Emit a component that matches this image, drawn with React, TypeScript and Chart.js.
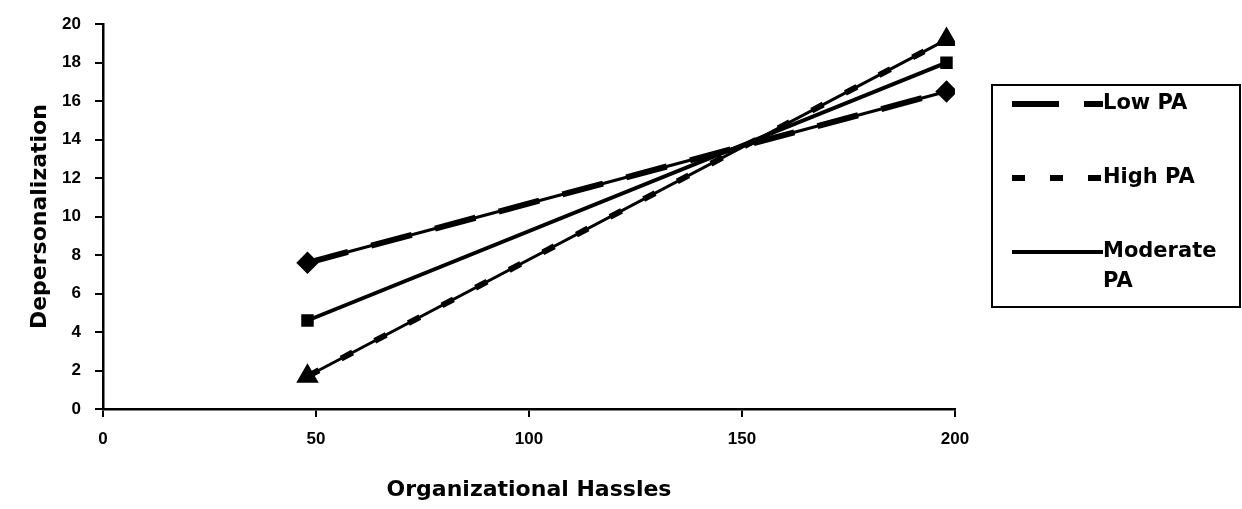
import React, { useEffect, useRef } from "react";
import { Chart, registerables } from "chart.js";

Chart.register(...registerables);

const xValues = [48, 198];
const lowPA = [7.6, 16.5];
const highPA = [1.7, 19.2];
const moderatePA = [4.6, 18.0];
const legendLabels = ["Low PA", "High PA", "Moderate", "PA"];
const xTitle = "Organizational Hassles";
const yTitle = "Depersonalization";

const FONT = "'Liberation Sans', Arial, sans-serif";
const TFONT = "'DejaVu Sans', sans-serif";

const LOW_DASH = [42, 24];
const HIGH_DASH = [13, 25];

const pts = (ys: number[]) => xValues.map((x, i) => ({ x, y: ys[i] }));

const legendPlugin = {
  id: "boxLegend",
  afterDraw(chart: any) {
    const ctx = chart.ctx;
    ctx.save();
    const left = 992, top = 85, right = 1240, bottom = 307;
    ctx.strokeStyle = "#000";
    ctx.lineWidth = 2;
    ctx.strokeRect(left, top, right - left, bottom - top);
    const items = [
      { y: 104, dash: [47, 25], width: 6, lines: [legendLabels[0]] },
      { y: 178, dash: [13, 25], width: 6, lines: [legendLabels[1]] },
      { y: 252, dash: [], width: 4, lines: [legendLabels[2], legendLabels[3]] },
    ];
    ctx.font = `bold 21px ${TFONT}`;
    ctx.fillStyle = "#000";
    ctx.textBaseline = "middle";
    items.forEach((it) => {
      ctx.beginPath();
      ctx.setLineDash(it.dash);
      ctx.lineWidth = it.width;
      ctx.lineCap = "butt";
      ctx.moveTo(1012, it.y);
      ctx.lineTo(1103, it.y);
      ctx.stroke();
      ctx.setLineDash([]);
      it.lines.forEach((t: string, j: number) => ctx.fillText(t, 1103, it.y + j * 30));
    });
    ctx.restore();
  },
};

export default function App() {
  const ref = useRef<HTMLCanvasElement | null>(null);
  useEffect(() => {
    document.body.style.margin = "0";
    const base = {
      borderColor: "#000",
      backgroundColor: "#000",
      pointBackgroundColor: "#000",
      pointBorderColor: "#000",
    };
    const chart = new Chart(ref.current!, {
      type: "line",
      data: {
        datasets: [
          { ...base, label: "Low PA", data: pts(lowPA), borderWidth: 6, borderDash: LOW_DASH, pointStyle: "rectRot", pointRadius: 7 },
          { ...base, label: "Low PA base", data: pts(lowPA), borderWidth: 3, pointRadius: 0 },
          { ...base, label: "High PA", data: pts(highPA), borderWidth: 6, borderDash: HIGH_DASH, pointStyle: "triangle", pointRadius: 7 },
          { ...base, label: "High PA base", data: pts(highPA), borderWidth: 3, pointRadius: 0 },
          { ...base, label: "Moderate PA", data: pts(moderatePA), borderWidth: 4, pointStyle: "rect", pointRadius: 6 },
        ],
      },
      options: {
        animation: false,
        responsive: false,
        layout: { padding: { top: 19, right: 287, left: 0, bottom: 0 } },
        plugins: { legend: { display: false }, tooltip: { enabled: false } },
        elements: { line: { tension: 0 } },
        scales: {
          x: {
            type: "linear",
            min: 0,
            max: 200,
            ticks: { stepSize: 50, color: "#000", font: { family: FONT, size: 17, weight: "bold" }, padding: 12 },
            grid: { drawOnChartArea: false, drawTicks: true, tickLength: 8, color: "#000", lineWidth: 2 },
            border: { color: "#000", width: 2.5 },
            title: { display: true, text: xTitle, color: "#000", font: { family: TFONT, size: 22, weight: "bold" }, padding: { top: 0, bottom: 6 } },
            afterFit: (s: any) => { s.height = 100; },
          },
          y: {
            min: 0,
            max: 20,
            ticks: { stepSize: 2, color: "#000", font: { family: FONT, size: 17, weight: "bold" }, padding: 14 },
            grid: { drawOnChartArea: false, drawTicks: true, tickLength: 8, color: "#000", lineWidth: 2 },
            border: { color: "#000", width: 2.5 },
            title: { display: true, text: yTitle, color: "#000", font: { family: TFONT, size: 22, weight: "bold" }, padding: { top: 27, bottom: 0 } },
            afterFit: (s: any) => { s.width = 103; },
          },
        },
      },
      plugins: [legendPlugin],
    } as any);
    return () => chart.destroy();
  }, []);
  return (
    <div style={{ width: 1242, height: 509, background: "#fff" }}>
      <canvas ref={ref} width={1242} height={509} />
    </div>
  );
}
